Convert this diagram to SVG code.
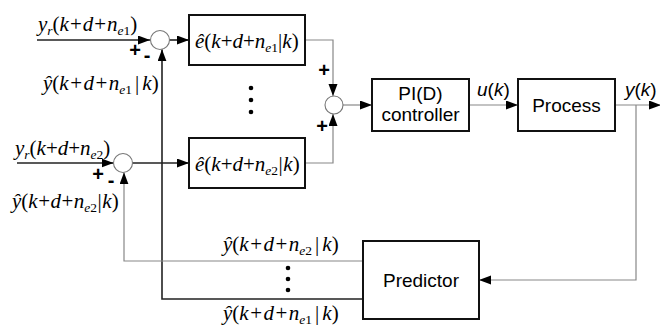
<svg xmlns="http://www.w3.org/2000/svg" width="660" height="326" viewBox="0 0 660 326">
<defs>
<marker id="arr" markerUnits="userSpaceOnUse" markerWidth="13" markerHeight="10" refX="12" refY="4.5" orient="auto">
<path d="M0,0 L12,4.5 L0,9 z" fill="#000"/>
</marker>
<style>
.box{fill:#fff;stroke:#111;stroke-width:2}
.sum{fill:#fff;stroke:#777;stroke-width:1.1}
.dk{fill:none;stroke:#222;stroke-width:1.6;marker-end:url(#arr)}
.lta{fill:none;stroke:#888;stroke-width:1.2;marker-end:url(#arr)}
.m{font-family:'Liberation Serif','Times New Roman',serif;font-size:21px;fill:#000}
.i{font-style:italic}
.s{font-size:13.5px}
.sans{font-family:'Liberation Sans',Arial,sans-serif;font-size:19px;fill:#000}
.sg{font-family:'Liberation Sans',Arial,sans-serif;font-size:20px;font-weight:bold;fill:#000}
</style>
</defs>
<rect width="660" height="326" fill="#fff"/>

<g id="connectors">
<path class="dk" d="M37,40 H150"/>
<path class="dk" d="M169.5,40 H189"/>
<path class="dk" d="M479,299 H162 V49.3"/>
<path class="dk" d="M17,163 H113.5"/>
<path class="dk" d="M132.5,163 H189"/>
<path class="lta" d="M479,261 H124 V172.3"/>
<path class="lta" d="M305,40 H333 V96.1"/>
<path class="lta" d="M305,163 H333 V113.9"/>
<path class="lta" d="M343,105 H372"/>
<path class="lta" d="M469,105 H518"/>
<path class="lta" d="M615,105 H661"/>
<path class="lta" d="M636,105 V280 H479"/>
</g>

<g id="sum1"><circle class="sum" cx="160" cy="40" r="9.5"/>
<text class="sg" x="135" y="57" text-anchor="middle">+</text>
<text class="sg" x="147" y="62" text-anchor="middle">-</text></g>
<g id="sum2"><circle class="sum" cx="123" cy="163" r="9.5"/>
<text class="sg" x="98" y="181" text-anchor="middle">+</text>
<text class="sg" x="111" y="187" text-anchor="middle">-</text></g>
<g id="sum3"><circle class="sum" cx="334" cy="105" r="9"/>
<text class="sg" x="324" y="77" text-anchor="middle">+</text>
<text class="sg" x="322" y="133" text-anchor="middle">+</text></g>

<g id="input1"><text class="m" x="38" y="31"><tspan class="i">y</tspan><tspan class="i s" dy="4">r</tspan><tspan dy="-4">(</tspan><tspan class="i">k</tspan><tspan dx="1">+</tspan><tspan class="i" dx="1">d</tspan><tspan dx="1">+</tspan><tspan class="i" dx="1">n</tspan><tspan class="i s" dy="4">e</tspan><tspan class="s">1</tspan><tspan dy="-4">)</tspan></text></g>
<g id="fb1label"><text class="m" x="43" y="90"><tspan class="i">ŷ</tspan>(<tspan class="i">k</tspan><tspan dx="1.5">+</tspan><tspan class="i" dx="1.5">d</tspan><tspan dx="1.5">+</tspan><tspan class="i" dx="1.5">n</tspan><tspan class="i s" dy="4">e</tspan><tspan class="s">1</tspan><tspan dy="-4" dx="3">|</tspan><tspan class="i" dx="3">k</tspan>)</text></g>
<g id="input2"><text class="m" x="15" y="155"><tspan class="i">y</tspan><tspan class="i s" dy="4">r</tspan><tspan dy="-4">(</tspan><tspan class="i">k</tspan>+<tspan class="i">d</tspan>+<tspan class="i">n</tspan><tspan class="i s" dy="4">e</tspan><tspan class="s">2</tspan><tspan dy="-4">)</tspan></text></g>
<g id="fb2label"><text class="m" x="12" y="208"><tspan class="i">ŷ</tspan>(<tspan class="i">k</tspan><tspan dx="0.5">+</tspan><tspan class="i" dx="0.5">d</tspan><tspan dx="0.5">+</tspan><tspan class="i" dx="0.5">n</tspan><tspan class="i s" dy="4">e</tspan><tspan class="s">2</tspan><tspan dy="-4" dx="0.5">|</tspan><tspan class="i" dx="0.5">k</tspan>)</text></g>

<g id="e1"><rect class="box" x="189" y="15" width="116" height="50"/>
<text class="m" x="195" y="48"><tspan class="i">ê</tspan>(<tspan class="i">k</tspan>+<tspan class="i">d</tspan>+<tspan class="i">n</tspan><tspan class="i s" dy="4">e</tspan><tspan class="s">1</tspan><tspan dy="-4">|</tspan><tspan class="i">k</tspan>)</text></g>
<g id="e2"><rect class="box" x="189" y="138" width="116" height="50"/>
<text class="m" x="195" y="171"><tspan class="i">ê</tspan>(<tspan class="i">k</tspan>+<tspan class="i">d</tspan>+<tspan class="i">n</tspan><tspan class="i s" dy="4">e</tspan><tspan class="s">2</tspan><tspan dy="-4" dx="0.5">|</tspan><tspan class="i" dx="0.5">k</tspan>)</text></g>

<g id="dots1"><circle cx="251" cy="88" r="2.3"/><circle cx="251" cy="100" r="2.3"/><circle cx="251" cy="112" r="2.3"/></g>
<g id="dots2"><circle cx="288" cy="268" r="2.3"/><circle cx="288" cy="279" r="2.3"/><circle cx="288" cy="290" r="2.3"/></g>

<g id="pid"><rect class="box" x="372" y="79" width="97" height="52"/>
<text class="sans" x="420.5" y="100" text-anchor="middle">PI(D)</text>
<text class="sans" x="420.5" y="121" text-anchor="middle">controller</text></g>
<g id="ulabel"><text class="sans" x="477" y="96"><tspan font-style="italic">u</tspan>(<tspan font-style="italic">k</tspan>)</text></g>
<g id="process"><rect class="box" x="518" y="79" width="97" height="52"/>
<text class="sans" x="566.5" y="112" text-anchor="middle">Process</text></g>
<g id="ylabel"><text class="sans" x="625" y="96"><tspan font-style="italic">y</tspan>(<tspan font-style="italic">k</tspan>)</text></g>
<g id="predictor"><rect class="box" x="363" y="241" width="116" height="78"/>
<text class="sans" x="421" y="287" text-anchor="middle">Predictor</text></g>

<g id="pred2label"><text class="m" x="223" y="251"><tspan class="i">ŷ</tspan>(<tspan class="i">k</tspan><tspan dx="1.5">+</tspan><tspan class="i" dx="1.5">d</tspan><tspan dx="1.5">+</tspan><tspan class="i" dx="1.5">n</tspan><tspan class="i s" dy="4">e</tspan><tspan class="s">2</tspan><tspan dy="-4" dx="3">|</tspan><tspan class="i" dx="3">k</tspan>)</text></g>
<g id="pred1label"><text class="m" x="223" y="320"><tspan class="i">ŷ</tspan>(<tspan class="i">k</tspan><tspan dx="1.5">+</tspan><tspan class="i" dx="1.5">d</tspan><tspan dx="1.5">+</tspan><tspan class="i" dx="1.5">n</tspan><tspan class="i s" dy="4">e</tspan><tspan class="s">1</tspan><tspan dy="-4" dx="3">|</tspan><tspan class="i" dx="3">k</tspan>)</text></g>
</svg>
